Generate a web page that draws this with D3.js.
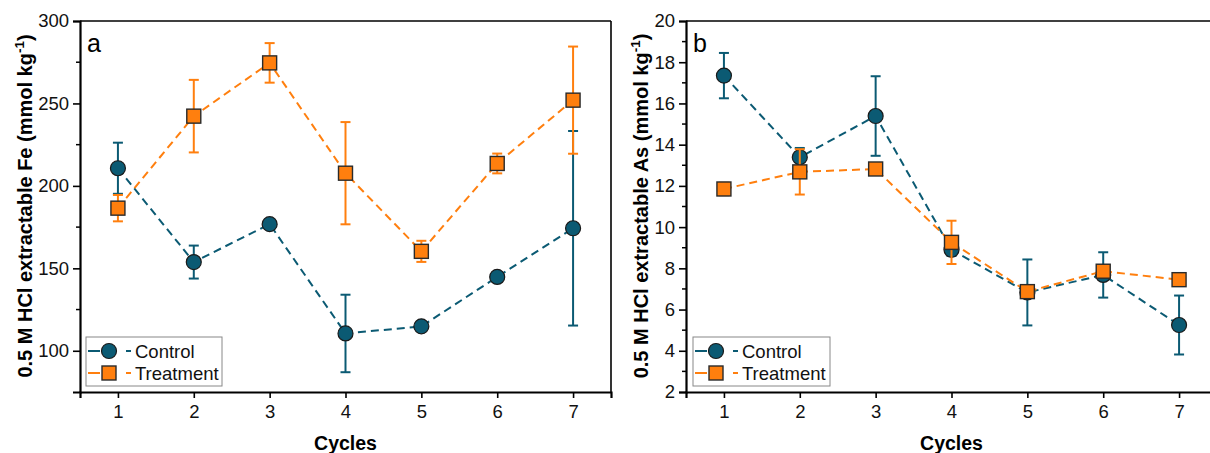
<!DOCTYPE html>
<html>
<head>
<meta charset="utf-8">
<script src="https://cdn.jsdelivr.net/npm/d3@7"></script>
<style>
  body { margin: 0; background: #fff; }
  svg { display: block; font-family: "Liberation Sans", Arial, sans-serif; }
</style>
</head>
<body>
<div id="chart"></div>
<script>
// Data
var cycles = [1, 2, 3, 4, 5, 6, 7];

var feControl = [210.7, 153.8, 176.8, 110.5, 114.8, 144.8, 174.3];
var feControlErr = [15.5, 10, 1.5, 23.5, 1.5, 1.5, 59];
var feTreatment = [186.5, 242.3, 274.6, 207.7, 160.3, 213.6, 252];
var feTreatmentErr = [8, 22, 12, 31, 6.4, 6, 32.5];

var asControl = [17.35, 13.39, 15.39, 8.9, 6.83, 7.68, 5.25];
var asControlErr = [1.1, 0.45, 1.93, 0.3, 1.6, 1.1, 1.43];
var asTreatment = [11.85, 12.68, 12.82, 9.26, 6.87, 7.86, 7.45];
var asTreatmentErr = [0.3, 1.1, 0.2, 1.05, 0.2, 0.2, 0.15];

var feTicks = [100, 150, 200, 250, 300];
var feMinor = [125, 175, 225, 275];
var asTicks = [2, 4, 6, 8, 10, 12, 14, 16, 18, 20];
var asMinor = [3, 5, 7, 9, 11, 13, 15, 17, 19];

var seriesNames = ["Control", "Treatment"];
var colors = { Control: "#0b5a73", Treatment: "#ff7f0e" };

var svgWidth = 1210, svgHeight = 453;

var svg = d3.select("#chart").append("svg")
    .attr("width", svgWidth)
    .attr("height", svgHeight);

function drawPanel(opt) {
    var x = d3.scaleLinear().domain([0.5, 7.5]).range([opt.left, opt.right]);
    var y = d3.scaleLinear().domain(opt.yDomain).range([392, 21]);
    var g = svg.append("g");

    // frame (top + right)
    g.append("line").attr("x1", opt.left).attr("x2", opt.right)
        .attr("y1", 21).attr("y2", 21).attr("stroke", "#000").attr("stroke-width", 1.6);
    g.append("line").attr("x1", opt.right).attr("x2", opt.right)
        .attr("y1", 21).attr("y2", 392).attr("stroke", "#000").attr("stroke-width", 1.6);

    // minor ticks
    g.selectAll(".minor").data(opt.minor).enter().append("line")
        .attr("x1", opt.left - 4).attr("x2", opt.left)
        .attr("y1", d => y(d)).attr("y2", d => y(d))
        .attr("stroke", "#000").attr("stroke-width", 1.5);

    var xAxis = g.append("g")
        .attr("transform", "translate(0,392)")
        .call(d3.axisBottom(x).tickValues(cycles).tickFormat(d3.format("d")).tickSize(6).tickPadding(4));
    var yAxis = g.append("g")
        .attr("transform", "translate(" + opt.left + ",0)")
        .call(d3.axisLeft(y).tickValues(opt.ticks).tickSize(7).tickPadding(4));

    [xAxis, yAxis].forEach(function(a) {
        a.select(".domain").attr("stroke-width", 2.2);
        a.selectAll(".tick line").attr("stroke-width", 1.6);
        a.selectAll("text").attr("font-size", 18.5).attr("fill", "#111")
            .attr("font-family", "'Liberation Sans', Arial, sans-serif");
    });
    xAxis.selectAll("text").attr("dy", "0.85em");

    // axis titles
    g.append("text")
        .attr("x", (opt.left + opt.right) / 2).attr("y", 450)
        .attr("text-anchor", "middle").attr("font-weight", "bold").attr("font-size", 19.5)
        .text("Cycles");

    var yt = g.append("text")
        .attr("transform", "translate(" + opt.titleX + "," + 206 + ") rotate(-90)")
        .attr("text-anchor", "middle").attr("font-weight", "bold").attr("font-size", 20);
    yt.append("tspan").text(opt.yTitle + " (mmol kg");
    yt.append("tspan").attr("dy", -8).attr("font-size", 13.5).text("-1");
    yt.append("tspan").attr("dy", 8).text(")");

    // panel letter
    g.append("text").attr("x", opt.left + 7).attr("y", 52)
        .attr("font-size", 25).text(opt.letter);

    // series
    seriesNames.forEach(function(name) {
        var vals = opt.data[name], errs = opt.err[name];
        var pts = cycles.map((c, i) => ({ c: c, v: vals[i], e: errs[i] }));
        var col = colors[name];
        var s = g.append("g");

        s.append("path").datum(pts)
            .attr("d", d3.line().x(d => x(d.c)).y(d => y(d.v)))
            .attr("fill", "none").attr("stroke", col)
            .attr("stroke-width", 2).attr("stroke-dasharray", "8,5");

        var eb = s.selectAll(".eb").data(pts).enter().append("g");
        eb.append("line")
            .attr("x1", d => x(d.c)).attr("x2", d => x(d.c))
            .attr("y1", d => y(d.v + d.e)).attr("y2", d => y(d.v - d.e))
            .attr("stroke", col).attr("stroke-width", 2);
        [1, -1].forEach(function(sg) {
            eb.append("line")
                .attr("x1", d => x(d.c) - 5).attr("x2", d => x(d.c) + 5)
                .attr("y1", d => y(d.v + sg * d.e)).attr("y2", d => y(d.v + sg * d.e))
                .attr("stroke", col).attr("stroke-width", 2);
        });

        if (name === "Control") {
            s.selectAll(".mk").data(pts).enter().append("circle")
                .attr("cx", d => x(d.c)).attr("cy", d => y(d.v)).attr("r", 7.5)
                .attr("fill", col).attr("stroke", "#1a1a1a").attr("stroke-width", 1.2);
        } else {
            s.selectAll(".mk").data(pts).enter().append("rect")
                .attr("x", d => x(d.c) - 7).attr("y", d => y(d.v) - 7)
                .attr("width", 14).attr("height", 14)
                .attr("fill", col).attr("stroke", "#2a2a2a").attr("stroke-width", 1.4);
        }
    });

    // legend
    var lg = g.append("g").attr("transform", "translate(" + opt.legX + ",337)");
    lg.append("rect").attr("x", 0).attr("y", 0).attr("width", opt.legW).attr("height", 49)
        .attr("fill", "#fff").attr("stroke", "#888").attr("stroke-width", 1);
    seriesNames.forEach(function(name, i) {
        var cy = 14 + i * 22, col = colors[name];
        lg.append("line").attr("x1", 2).attr("x2", 14).attr("y1", cy).attr("y2", cy)
            .attr("stroke", col).attr("stroke-width", 2);
        lg.append("line").attr("x1", 40).attr("x2", 45).attr("y1", cy).attr("y2", cy)
            .attr("stroke", col).attr("stroke-width", 2);
        if (name === "Control") {
            lg.append("circle").attr("cx", 23).attr("cy", cy).attr("r", 7.5)
                .attr("fill", col).attr("stroke", "#1a1a1a").attr("stroke-width", 1.2);
        } else {
            lg.append("rect").attr("x", 16).attr("y", cy - 7).attr("width", 14).attr("height", 14)
                .attr("fill", col).attr("stroke", "#2a2a2a").attr("stroke-width", 1.4);
        }
        lg.append("text").attr("x", 49).attr("y", cy + 6.5).attr("font-size", 18.5)
            .attr("fill", "#111").text(name);
    });
}

drawPanel({
    left: 80, right: 611, yDomain: [75, 300], ticks: feTicks, minor: feMinor,
    yTitle: "0.5 M HCl extractable Fe", titleX: 32, letter: "a",
    data: { Control: feControl, Treatment: feTreatment },
    err: { Control: feControlErr, Treatment: feTreatmentErr },
    legX: 86, legW: 136
});

drawPanel({
    left: 686, right: 1217, yDomain: [2, 20], ticks: asTicks, minor: asMinor,
    yTitle: "0.5 M HCl extractable As", titleX: 648, letter: "b",
    data: { Control: asControl, Treatment: asTreatment },
    err: { Control: asControlErr, Treatment: asTreatmentErr },
    legX: 693, legW: 137
});
</script>
</body>
</html>
